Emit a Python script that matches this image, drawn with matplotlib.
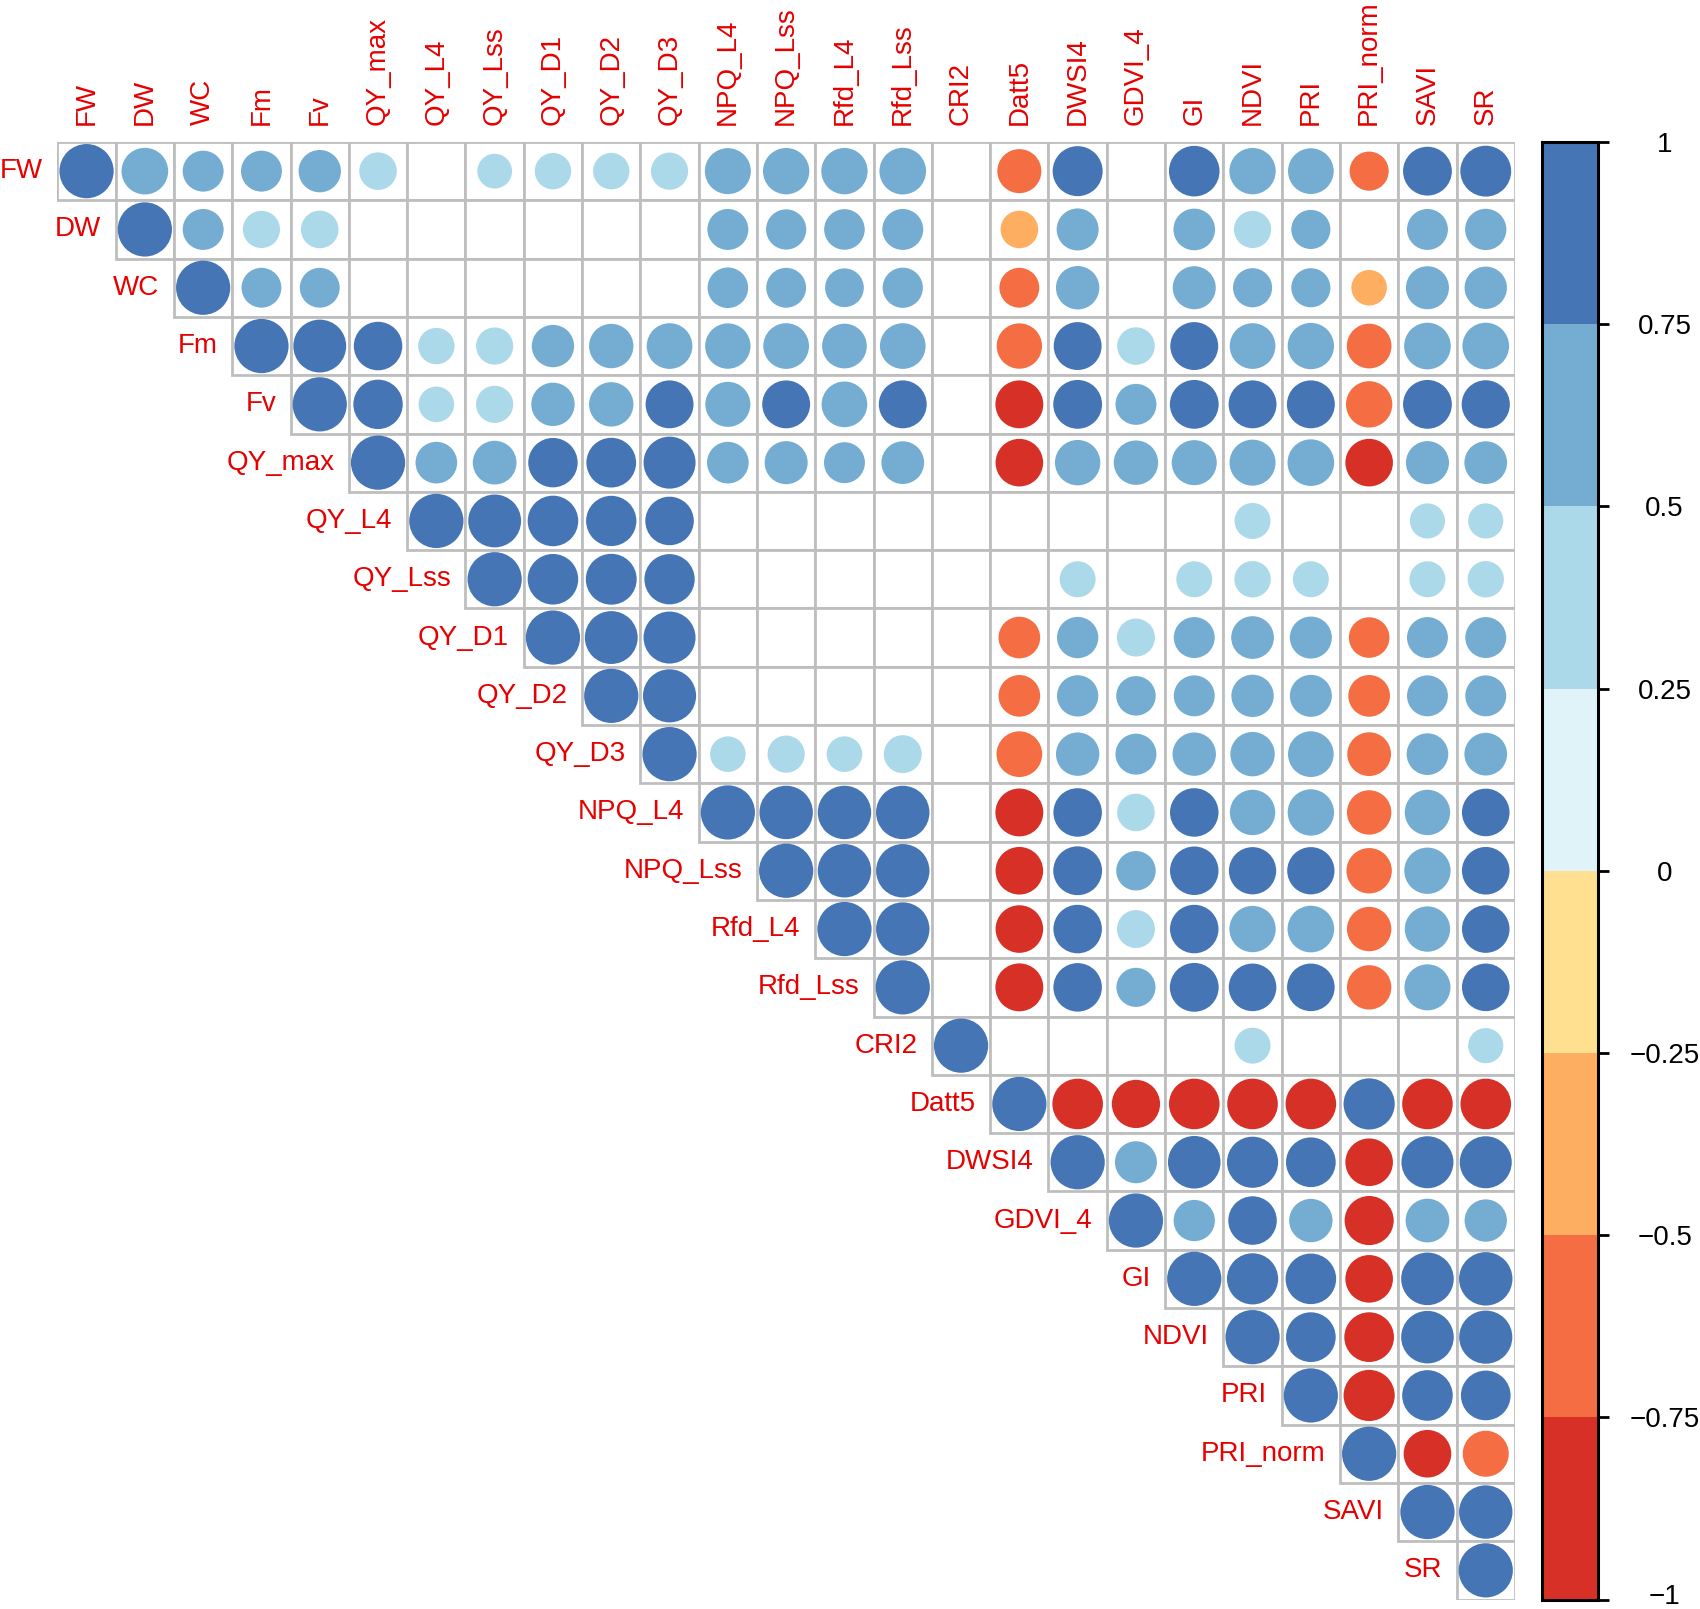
import numpy as np
import matplotlib
matplotlib.use("Agg")
import matplotlib.pyplot as plt
from matplotlib.patches import Circle, Rectangle
from matplotlib.colors import ListedColormap, BoundaryNorm
from matplotlib.cm import ScalarMappable
from matplotlib.transforms import ScaledTranslation

plt.rcParams['font.family'] = ['Liberation Sans', 'DejaVu Sans']

variables = ['FW', 'DW', 'WC', 'Fm', 'Fv', 'QY_max', 'QY_L4', 'QY_Lss', 'QY_D1',
             'QY_D2', 'QY_D3', 'NPQ_L4', 'NPQ_Lss', 'Rfd_L4', 'Rfd_Lss', 'CRI2',
             'Datt5', 'DWSI4', 'GDVI_4', 'GI', 'NDVI', 'PRI', 'PRI_norm', 'SAVI', 'SR']

nan = np.nan
# upper triangle, row i holds the correlations with columns i+1 .. end
# (nan = not significant, left blank)
r_FW = [0.74, 0.57, 0.57, 0.61, 0.48, nan, 0.41, 0.45, 0.45, 0.47, 0.72, 0.73, 0.73, 0.74,
        nan, -0.66, 0.85, nan, 0.87, 0.73, 0.71, -0.52, 0.81, 0.88]
r_DW = [0.57, 0.47, 0.48, nan, nan, nan, nan, nan, nan, 0.57, 0.55, 0.56, 0.57,
        nan, -0.48, 0.60, nan, 0.59, 0.47, 0.52, nan, 0.57, 0.58]
r_WC = [0.54, 0.54, nan, nan, nan, nan, nan, nan, 0.56, 0.54, 0.51, 0.55,
        nan, -0.54, 0.64, nan, 0.63, 0.52, 0.52, -0.43, 0.63, 0.61]
r_Fm = [0.95, 0.80, 0.45, 0.47, 0.61, 0.67, 0.71, 0.70, 0.71, 0.68, 0.71,
        nan, -0.70, 0.78, 0.48, 0.78, 0.71, 0.73, -0.68, 0.74, 0.74]
r_Fv = [0.83, 0.43, 0.47, 0.64, 0.67, 0.78, 0.69, 0.78, 0.71, 0.78,
        nan, -0.78, 0.81, 0.57, 0.81, 0.78, 0.78, -0.73, 0.81, 0.79]
r_QY_max = [0.59, 0.65, 0.83, 0.84, 0.92, 0.59, 0.63, 0.57, 0.62,
            nan, -0.77, 0.70, 0.67, 0.69, 0.72, 0.74, -0.77, 0.63, 0.62]
r_QY_L4 = [0.95, 0.87, 0.86, 0.80, nan, nan, nan, nan,
           nan, nan, nan, nan, nan, 0.44, nan, nan, 0.42, 0.42]
r_QY_Lss = [0.87, 0.88, 0.86, nan, nan, nan, nan,
            nan, nan, 0.44, nan, 0.44, 0.45, 0.44, nan, 0.44, 0.45]
r_QY_D1 = [0.95, 0.92, nan, nan, nan, nan,
           nan, -0.59, 0.58, 0.49, 0.57, 0.62, 0.60, -0.56, 0.57, 0.57]
r_QY_D2 = [0.96, nan, nan, nan, nan,
           nan, -0.59, 0.58, 0.53, 0.57, 0.61, 0.60, -0.59, 0.57, 0.57]
r_QY_D3 = [0.43, 0.47, 0.43, 0.49,
           nan, -0.71, 0.64, 0.57, 0.64, 0.67, 0.71, -0.65, 0.59, 0.62]
r_NPQ_L4 = [0.97, 0.97, 0.97, nan, -0.78, 0.80, 0.48, 0.80, 0.70, 0.73, -0.67, 0.70, 0.77]
r_NPQ_Lss = [0.97, 0.97, nan, -0.77, 0.81, 0.53, 0.80, 0.76, 0.76, -0.70, 0.73, 0.77]
r_Rfd_L4 = [0.97, nan, -0.77, 0.80, 0.49, 0.80, 0.73, 0.74, -0.67, 0.70, 0.77]
r_Rfd_Lss = [nan, -0.78, 0.80, 0.52, 0.81, 0.77, 0.77, -0.67, 0.72, 0.77]
r_CRI2 = [nan, nan, nan, nan, 0.44, nan, nan, nan, 0.42]
r_Datt5 = [-0.87, -0.79, -0.87, -0.87, -0.87, 0.89, -0.87, -0.87]
r_DWSI4 = [0.60, 0.94, 0.89, 0.84, -0.77, 0.92, 0.92]
r_GDVI_4 = [0.58, 0.80, 0.64, -0.82, 0.65, 0.61]
r_GI = [0.89, 0.87, -0.77, 0.94, 0.97]
r_NDVI = [0.84, -0.84, 0.94, 0.96]
r_PRI = [-0.89, 0.87, 0.84]
r_PRI_norm = [-0.77, -0.72]
r_SAVI = [0.97]
r_SR = []

upper_rows = [r_FW, r_DW, r_WC, r_Fm, r_Fv, r_QY_max, r_QY_L4, r_QY_Lss, r_QY_D1,
              r_QY_D2, r_QY_D3, r_NPQ_L4, r_NPQ_Lss, r_Rfd_L4, r_Rfd_Lss, r_CRI2,
              r_Datt5, r_DWSI4, r_GDVI_4, r_GI, r_NDVI, r_PRI, r_PRI_norm, r_SAVI, r_SR]

n = len(variables)
corr = np.full((n, n), np.nan)
for i, row in enumerate(upper_rows):
    corr[i, i] = 1.0
    corr[i, i + 1:] = row

palette = ['#D73027', '#F46D43', '#FDAE61', '#FEE090',
           '#E0F3F8', '#ABD9E9', '#74ADD1', '#4575B4']
bounds = np.linspace(-1, 1, 9)
cmap = ListedColormap(palette)
norm = BoundaryNorm(bounds, cmap.N)

W, H = 1700, 1609
fig = plt.figure(figsize=(W / 100, H / 100), dpi=100)

gl, gt, cell = 57.4, 142.0, 58.3
ax = fig.add_axes([gl / W, 1 - (gt + n * cell) / H, n * cell / W, n * cell / H])
ax.set_xlim(0, n)
ax.set_ylim(n, 0)
ax.axis('off')

grid_col = '#BEBEBE'
for i in range(n):
    for j in range(i, n):
        ax.add_patch(Rectangle((j, i), 1, 1, facecolor='white', edgecolor=grid_col,
                               linewidth=2.0, zorder=1))
        v = corr[i, j]
        if np.isnan(v):
            continue
        ax.add_patch(Circle((j + 0.5, i + 0.5), 0.465 * np.sqrt(abs(v)),
                            facecolor=cmap(norm(v)), edgecolor='none', zorder=2))

lab_fs = 20
txt_col = '#E60000'
for i, name in enumerate(variables):
    ax.text(i - 0.25, i + 0.5, name, color=txt_col, fontsize=lab_fs,
            ha='right', va='center', clip_on=False)
    ax.text(i + 0.5, -0.3, name, color=txt_col, fontsize=lab_fs, rotation=90,
            ha='center', va='bottom', clip_on=False)

cax = fig.add_axes([1542 / W, 1 - (gt + n * cell) / H, 56 / W, n * cell / H])
cb = fig.colorbar(ScalarMappable(norm=norm, cmap=cmap), cax=cax, ticks=bounds)
cb.outline.set_linewidth(2.2)
cb.outline.set_edgecolor('black')
tick_labels = ['\u22121', '\u22120.75', '\u22120.5', '\u22120.25', '0',
               '0.25', '0.5', '0.75', '1']
cb.set_ticklabels(tick_labels)
cax.tick_params(length=8, width=2, pad=40, labelsize=lab_fs, colors='black')
ylabs = cax.get_yticklabels()
for lab in ylabs:
    lab.set_horizontalalignment('center')
# lift the bottom label a little so it stays inside the picture
ylabs[0].set_transform(ylabs[0].get_transform() + ScaledTranslation(0, 4 / 72, fig.dpi_scale_trans))

fig.savefig('out.png', dpi=100)
